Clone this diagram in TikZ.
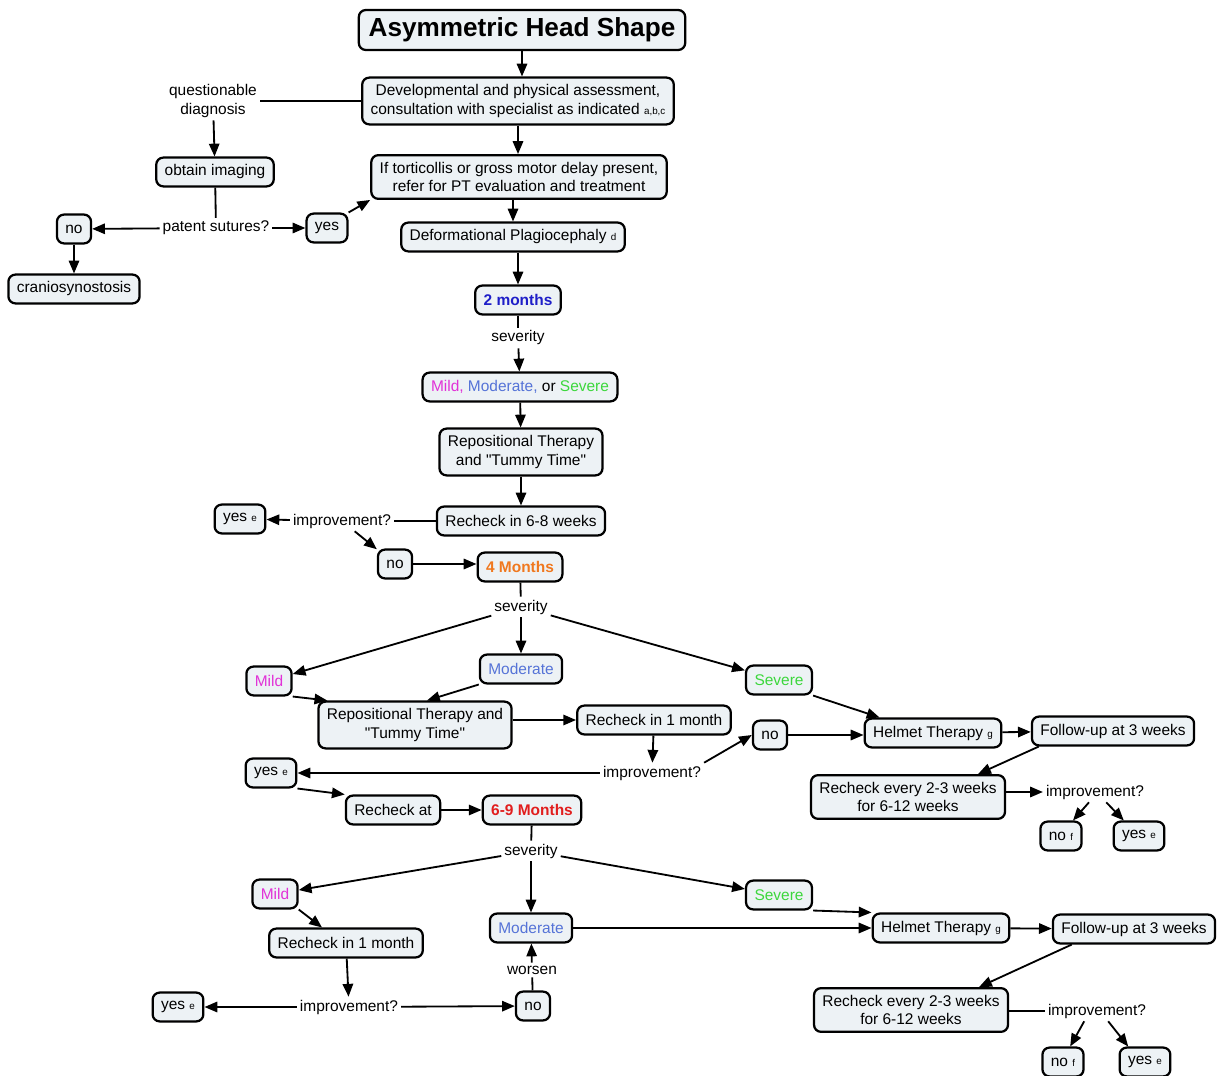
\documentclass[tikz,border=0pt]{standalone}
\usepackage{fontspec}
\setmainfont{Liberation Sans}
\usepackage{xcolor}
\usepackage{tikz}
\usetikzlibrary{arrows.meta,positioning}
\definecolor{boxfill}{RGB}{237,242,245}
\definecolor{mildc}{RGB}{225,50,215}
\definecolor{modc}{RGB}{85,115,215}
\definecolor{sevc}{RGB}{60,215,60}
\definecolor{twoc}{RGB}{30,30,200}
\definecolor{fourc}{RGB}{240,120,30}
\definecolor{sixc}{RGB}{225,30,30}
\newcommand{\mainsz}{\fontsize{11}{13}\selectfont}
\newcommand{\ftn}[1]{{\fontsize{7}{8}\selectfont #1}}
\newcommand{\qt}{\textquotedbl}
\tikzset{
  box/.style={draw,fill=boxfill,rounded corners=5pt,line width=1.6pt,align=center,font=\mainsz,minimum height=0.72cm,inner xsep=6pt,inner ysep=5pt},
  txt/.style={align=center,font=\mainsz,inner sep=2pt},
  arr/.style={-{Triangle[length=3.2mm,width=2.6mm]},line width=1.3pt},
  ln/.style={line width=1.3pt},
}
\begin{document}
\begin{tikzpicture}[x=0.025cm,y=-0.025cm]
\useasboundingbox (0,0) rectangle (1218,1076);
% top part
\node[box,font=\fontsize{18.6}{22}\selectfont\bfseries,inner xsep=7pt,minimum height=1cm] (title) at (522,30) {Asymmetric Head Shape};
\node[box] (assess) at (518,101) {Developmental and physical assessment,\\consultation with specialist as indicated \ftn{a,b,c}};
\node[txt] (quest) at (213,101) {questionable\\diagnosis};
\node[box] (imaging) at (215,172) {obtain imaging};
\node[box] (tort) at (519,177) {If torticollis or gross motor delay present,\\refer for PT evaluation and treatment};
\node[txt] (sutures) at (216,228) {patent sutures?};
\node[box] (sutno) at (74,229) {no};
\node[box] (sutyes) at (327,228) {yes};
\node[box] (cranio) at (74,289) {craniosynostosis};
\node[box] (plagio) at (513,237) {Deformational Plagiocephaly \ftn{d}};
\node[box,font=\mainsz\bfseries,text=twoc] (two) at (518,300) {2 months};
\node[txt] (sevA) at (518,338) {severity};
\node[box] (grade) at (520,387) {\textcolor{mildc}{Mild,} \textcolor{modc}{Moderate,} or \textcolor{sevc}{Severe}};
\node[box] (repoA) at (521,452) {Repositional Therapy\\and \qt Tummy Time\qt};
\node[box] (recA) at (521,521) {Recheck in 6-8 weeks};
\node[txt] (impA) at (342,521) {improvement?};
\node[box] (yesA) at (240,519) {yes \ftn{e}};
\node[box] (noA) at (395,564) {no};
\node[box,font=\mainsz\bfseries,text=fourc] (four) at (520,567) {4 Months};
% 4 months
\node[txt] (sevB) at (521,607) {severity};
\node[box,text=mildc] (mildB) at (269,681) {Mild};
\node[box,text=modc] (modB) at (521,669) {Moderate};
\node[box,text=sevc] (sevrB) at (779,680) {Severe};
\node[box] (repoB) at (415,725) {Repositional Therapy and\\\qt Tummy Time\qt};
\node[box] (recB) at (654,720) {Recheck in 1 month};
\node[txt] (impB) at (652,773) {improvement?};
\node[box] (noB) at (770,735) {no};
\node[box] (helmB) at (933,733) {Helmet Therapy \ftn{g}};
\node[box] (follB) at (1113,731) {Follow-up at 3 weeks};
\node[box] (everyB) at (908,797) {Recheck every 2-3 weeks\\for 6-12 weeks};
\node[txt] (impC) at (1095,792) {improvement?};
\node[box] (noC) at (1061,836) {no \ftn{f}};
\node[box] (yesC) at (1139,836) {yes \ftn{e}};
\node[box] (yesB) at (271,773) {yes \ftn{e}};
\node[box] (recAt) at (393,810) {Recheck at};
\node[box,font=\mainsz\bfseries,text=sixc] (six) at (532,810) {6-9 Months};
% 6-9 months
\node[txt] (sevC) at (531,851) {severity};
\node[box,text=mildc] (mildC) at (275,894) {Mild};
\node[box,text=modc] (modC) at (531,928) {Moderate};
\node[box,text=sevc] (sevrC) at (779,895) {Severe};
\node[box] (helmC) at (941,928) {Helmet Therapy \ftn{g}};
\node[box] (follC) at (1134,929) {Follow-up at 3 weeks};
\node[box] (everyC) at (911,1010) {Recheck every 2-3 weeks\\for 6-12 weeks};
\node[txt] (impD) at (1097,1011) {improvement?};
\node[box] (noD) at (1063,1062) {no \ftn{f}};
\node[box] (yesD) at (1145,1062) {yes \ftn{e}};
\node[box] (recC) at (346,943) {Recheck in 1 month};
\node[txt] (impE) at (349,1007) {improvement?};
\node[box] (yesE) at (178,1007) {yes \ftn{e}};
\node[box] (noE) at (533,1006) {no};
\node[txt] (worse) at (532,970) {worsen};
% connectors
\draw[arr] (title) -- (title |- assess.north);
\draw[ln] (assess) -- (quest);
\draw[arr] (quest) -- (imaging);
\draw[arr] (assess) -- (assess |- tort.north);
\draw[ln] (imaging) -- (sutures);
\draw[arr] (sutures) -- (sutno);
\draw[arr] (sutures) -- (sutyes);
\draw[arr] (sutno) -- (cranio);
\draw[arr] (sutyes.north east) -- (tort.south west);
\draw[arr] (plagio |- tort.south) -- (plagio);
\draw[arr] (two |- plagio.south) -- (two);
\draw[ln] (two) -- (sevA);
\draw[arr] (sevA) -- (grade);
\draw[arr] (grade) -- (repoA);
\draw[arr] (repoA) -- (recA);
\draw[ln] (recA) -- (impA);
\draw[arr] (impA) -- (yesA);
\draw[arr] (impA) -- (noA);
\draw[arr] (noA) -- (four.west |- noA);
\draw[ln] (four) -- (sevB);
\draw[arr] (sevB) -- (mildB);
\draw[arr] (sevB) -- (modB);
\draw[arr] (sevB) -- (sevrB);
\draw[arr] (mildB.south east) -- ([xshift=0.25cm]repoB.north west);
\draw[arr] (modB.south west) -- ([xshift=0.3cm]repoB.north);
\draw[arr] (repoB.east |- recB) -- (recB);
\draw[arr] (recB) -- (impB);
\draw[arr] (impB.north east) -- (noB.west);
\draw[arr] (noB) -- (helmB.west |- noB);
\draw[arr] (sevrB.south east) -- ([xshift=0.4cm]helmB.north west);
\draw[arr] (helmB) -- (follB);
\draw[arr] ([xshift=0.2cm]follB.south west) -- ([xshift=-0.7cm]everyB.north east);
\draw[arr] (everyB.east |- impC) -- (impC);
\draw[arr] ([xshift=-0.15cm]impC.south) -- ([xshift=0.3cm]noC.north);
\draw[arr] ([xshift=0.28cm]impC.south) -- ([xshift=-0.38cm]yesC.north);
\draw[arr] (impB) -- (yesB);
\draw[arr] (yesB.south east) -- (recAt.north west);
\draw[arr] (recAt) -- (six);
\draw[ln] (six) -- (sevC);
\draw[arr] (sevC) -- (mildC);
\draw[arr] (sevC) -- (modC);
\draw[arr] (sevC) -- (sevrC);
\draw[arr] (mildC.south east) -- ([xshift=-0.6cm]recC.north);
\draw[arr] (recC) -- (impE);
\draw[arr] (impE) -- (yesE);
\draw[arr] (impE) -- (noE);
\draw[ln] (noE) -- (worse);
\draw[arr] (worse) -- (modC);
\draw[arr] (modC) -- (helmC);
\draw[arr] (sevrC.south east) -- (helmC.north west);
\draw[arr] (helmC) -- (follC);
\draw[arr] ([xshift=0.5cm]follC.south west) -- ([xshift=-0.75cm]everyC.north east);
\draw[ln] (everyC.east |- impD) -- (impD);
\draw[arr] ([xshift=-0.32cm]impD.south) -- ([xshift=0.18cm]noD.north);
\draw[arr] ([xshift=0.28cm]impD.south) -- ([xshift=-0.42cm]yesD.north);
\end{tikzpicture}
\end{document}
